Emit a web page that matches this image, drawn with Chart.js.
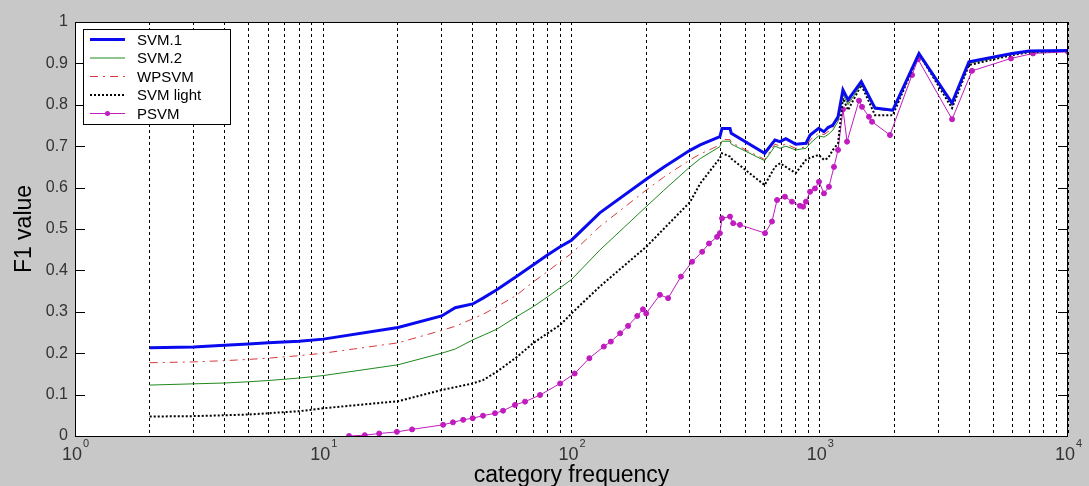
<!DOCTYPE html>
<html>
<head>
<meta charset="utf-8">
<script src="https://cdn.jsdelivr.net/npm/chart.js@4.4.1/dist/chart.umd.min.js"></script>
<style>
  html, body { margin: 0; padding: 0; background: #c8c8c8; }
  canvas { display: block; }
</style>
</head>
<body>
<canvas id="f1Chart" width="1089" height="486"></canvas>
<script>
// category frequency (shared by SVM.1 / SVM.2 / WPSVM / SVM light)
const freq = [2, 3, 4, 5, 6, 8, 10, 20, 30, 34, 40, 44, 50, 60, 70, 80, 90, 100,
  130, 200, 235, 300, 330, 396, 404, 435, 440, 600, 660, 692, 730, 800, 880, 915, 990,
  1040, 1080, 1130, 1185, 1240, 1300, 1470, 1670, 1970, 2510, 3410, 3990, 5950, 6970, 10000];

const svm1 = [0.213, 0.215, 0.219, 0.222, 0.225, 0.229, 0.234, 0.262, 0.290, 0.310, 0.319, 0.333, 0.353, 0.385, 0.413, 0.437, 0.457, 0.473,
  0.539, 0.620, 0.649, 0.690, 0.703, 0.723, 0.743, 0.743, 0.731, 0.683, 0.715, 0.711, 0.718, 0.705, 0.707, 0.727, 0.743,
  0.735, 0.745, 0.751, 0.771, 0.836, 0.812, 0.856, 0.792, 0.787, 0.924, 0.804, 0.904, 0.924, 0.930, 0.931];

const svm2 = [0.123, 0.126, 0.128, 0.131, 0.134, 0.140, 0.146, 0.172, 0.200, 0.210, 0.232, 0.243, 0.258, 0.288, 0.312, 0.336, 0.358, 0.378,
  0.449, 0.554, 0.593, 0.650, 0.670, 0.699, 0.712, 0.712, 0.705, 0.665, 0.700, 0.695, 0.700, 0.691, 0.695, 0.707, 0.725,
  0.722, 0.728, 0.739, 0.760, 0.825, 0.800, 0.850, 0.790, 0.785, 0.920, 0.800, 0.900, 0.922, 0.928, 0.930];

const wpsvm = [0.177, 0.179, 0.182, 0.185, 0.188, 0.194, 0.200, 0.225, 0.255, 0.265, 0.283, 0.294, 0.312, 0.340, 0.372, 0.397, 0.421, 0.441,
  0.506, 0.594, 0.625, 0.667, 0.681, 0.703, 0.716, 0.716, 0.709, 0.668, 0.705, 0.700, 0.705, 0.695, 0.698, 0.715, 0.732,
  0.728, 0.735, 0.745, 0.765, 0.830, 0.805, 0.853, 0.790, 0.785, 0.922, 0.800, 0.900, 0.922, 0.928, 0.930];

const svmLight = [0.047, 0.048, 0.050, 0.052, 0.055, 0.060, 0.067, 0.084, 0.111, 0.118, 0.127, 0.135, 0.155, 0.190, 0.224, 0.248, 0.268, 0.296,
  0.361, 0.457, 0.500, 0.565, 0.610, 0.671, 0.683, 0.675, 0.670, 0.606, 0.650, 0.659, 0.650, 0.635, 0.667, 0.672, 0.679,
  0.667, 0.671, 0.691, 0.707, 0.816, 0.787, 0.848, 0.775, 0.775, 0.923, 0.792, 0.896, 0.920, 0.927, 0.931];

// PSVM has its own points (markers)
const psvmFreq = [12.7, 14.7, 16.8, 19.8, 22.8, 30.4, 33.3, 36.6, 40, 44, 49.2, 53, 59.2, 65, 74.7,
  90, 103, 118, 135, 144, 157, 169, 184, 194, 200, 227, 245, 276, 306, 336, 358, 386, 396, 404, 435,
  448, 477, 602, 642, 673, 724, 773, 832, 857, 880, 914, 957, 993, 1040, 1089, 1141, 1185, 1241, 1288, 1439,
  1480, 1579, 1624, 1918, 2353, 2488, 3413, 4105, 5893, 7227, 10000];
const psvm = [0, 0.002, 0.006, 0.010, 0.016, 0.027, 0.033, 0.039, 0.043, 0.049, 0.055, 0.061, 0.075, 0.083, 0.099,
  0.127, 0.151, 0.188, 0.216, 0.228, 0.248, 0.266, 0.290, 0.306, 0.296, 0.341, 0.333, 0.385, 0.421, 0.445, 0.465, 0.481, 0.490, 0.526, 0.530,
  0.514, 0.510, 0.490, 0.518, 0.570, 0.578, 0.566, 0.556, 0.554, 0.566, 0.590, 0.598, 0.614, 0.586, 0.602, 0.650, 0.691, 0.789, 0.711, 0.810,
  0.795, 0.771, 0.759, 0.727, 0.872, 0.910, 0.765, 0.882, 0.912, 0.924, 0.928];

const seriesNames = ["SVM.1", "SVM.2", "WPSVM", "SVM light", "PSVM"];
// x tick labels are 10^k, k from this list
const decades = [0, 1, 2, 3, 4];

const FONT = "'Liberation Sans', Arial, sans-serif";

function toPoints(xs, ys) {
  return xs.map((x, i) => ({ x: x, y: ys[i] }));
}

// gray background + white plot area
const backgroundPlugin = {
  id: "background",
  beforeDraw(chart) {
    const { ctx, chartArea: a } = chart;
    ctx.save();
    ctx.fillStyle = "#c8c8c8";
    ctx.fillRect(0, 0, chart.width, chart.height);
    ctx.fillStyle = "#ffffff";
    ctx.fillRect(a.left, a.top, a.right - a.left, a.bottom - a.top);
    ctx.restore();
  },
};

// box around the axes, inward y ticks, and 10^k labels with a raised exponent
const framePlugin = {
  id: "frame",
  afterDraw(chart) {
    const { ctx, chartArea: a } = chart;
    const yScale = chart.scales.y;
    const xScale = chart.scales.x;
    ctx.save();
    ctx.strokeStyle = "#000";
    ctx.lineWidth = 1;
    ctx.setLineDash([]);
    ctx.strokeRect(a.left + 0.5, a.top + 0.5, a.right - a.left - 1, a.bottom - a.top);
    ctx.beginPath();
    yScale.ticks.forEach((t) => {
      const py = Math.round(yScale.getPixelForValue(t.value)) + 0.5;
      ctx.moveTo(a.left, py);
      ctx.lineTo(a.left + 10, py);
      ctx.moveTo(a.right, py);
      ctx.lineTo(a.right - 10, py);
    });
    ctx.stroke();

    //指数ラベル
    ctx.fillStyle = "#333";
    ctx.textBaseline = "alphabetic";
    ctx.textAlign = "left";
    decades.forEach((d) => {
      const px = xScale.getPixelForValue(Math.pow(10, d));
      ctx.font = "18px " + FONT;
      const baseW = ctx.measureText("10").width;
      ctx.font = "11px " + FONT;
      const expW = ctx.measureText(String(d)).width;
      const start = px - (baseW + expW) / 2;
      ctx.font = "18px " + FONT;
      ctx.fillText("10", start, a.bottom + 24);
      ctx.font = "11px " + FONT;
      ctx.fillText(String(d), start + baseW + 1, a.bottom + 11);
    });
    ctx.restore();
  },
};

// legend box in the top-left corner
const boxLegendPlugin = {
  id: "boxLegend",
  afterDraw(chart) {
    const { ctx, chartArea: a } = chart;
    const x0 = a.left + 8;
    const y0 = a.top + 7;
    const w = 147;
    const h = 95;
    ctx.save();
    ctx.fillStyle = "#fff";
    ctx.fillRect(x0, y0, w, h);
    ctx.strokeStyle = "#000";
    ctx.lineWidth = 1;
    ctx.setLineDash([]);
    ctx.strokeRect(x0 + 0.5, y0 + 0.5, w, h);
    ctx.font = "15px " + FONT;
    ctx.textBaseline = "middle";
    chart.data.datasets.forEach((ds, i) => {
      const ry = y0 + 10.5 + i * 18.5;
      ctx.strokeStyle = ds.borderColor;
      ctx.lineWidth = ds.borderWidth;
      ctx.setLineDash(ds.borderDash || []);
      ctx.beginPath();
      ctx.moveTo(x0 + 7, ry);
      ctx.lineTo(x0 + 42, ry);
      ctx.stroke();
      if (ds.pointRadius > 0) {
        ctx.fillStyle = ds.borderColor;
        ctx.beginPath();
        ctx.arc(x0 + 24.5, ry, ds.pointRadius, 0, Math.PI * 2);
        ctx.fill();
      }
      ctx.fillStyle = "#000";
      ctx.fillText(ds.label, x0 + 54, ry + 1);
    });
    ctx.restore();
  },
};

const datasets = [
  { label: seriesNames[0], data: toPoints(freq, svm1), borderColor: "#0a0aee", borderWidth: 3, pointRadius: 0 },
  { label: seriesNames[1], data: toPoints(freq, svm2), borderColor: "#1f8a1f", borderWidth: 1, pointRadius: 0 },
  { label: seriesNames[2], data: toPoints(freq, wpsvm), borderColor: "#d83a3a", borderWidth: 1, borderDash: [8, 5, 2, 5], pointRadius: 0 },
  { label: seriesNames[3], data: toPoints(freq, svmLight), borderColor: "#000000", borderWidth: 2, borderDash: [2, 2], pointRadius: 0 },
  { label: seriesNames[4], data: toPoints(psvmFreq, psvm), borderColor: "#c01cc0", backgroundColor: "#c01cc0", borderWidth: 1, pointRadius: 2.5 },
];

new Chart(document.getElementById("f1Chart"), {
  type: "line",
  data: { datasets: datasets },
  options: {
    responsive: false,
    animation: false,
    devicePixelRatio: 1,
    layout: { padding: { top: 22, right: 21, bottom: 0, left: 0 } },
    elements: { line: { tension: 0, fill: false }, point: { pointStyle: "circle", borderWidth: 0 } },
    plugins: { legend: { display: false }, tooltip: { enabled: false } },
    scales: {
      x: {
        type: "logarithmic",
        min: 1,
        max: 10000,
        afterBuildTicks(scale) {
          // grid at 1..9 x 10^k
          const ticks = [];
          decades.forEach((d) => {
            const maxM = d === decades[decades.length - 1] ? 1 : 9;
            for (let m = 1; m <= maxM; m++) ticks.push({ value: m * Math.pow(10, d) });
          });
          scale.ticks = ticks;
        },
        afterFit(scale) { scale.height = 50; },
        grid: { color: "#000", lineWidth: 1, drawTicks: false },
        border: { display: false, dash: [3, 3] },
        ticks: { display: false, autoSkip: false },
        title: {
          display: true,
          text: "category frequency",
          color: "#000",
          font: { family: FONT, size: 23 },
          padding: { top: 0, bottom: -3 },
        },
      },
      y: {
        min: 0,
        max: 1,
        afterFit(scale) { scale.width = 75; },
        grid: { display: false, drawTicks: false },
        border: { display: false },
        ticks: {
          stepSize: 0.1,
          padding: 7,
          color: "#333",
          font: { family: FONT, size: 16 },
          callback(value) { return String(Math.round(value * 10) / 10); },
        },
        title: {
          display: true,
          text: "F1 value",
          color: "#000",
          font: { family: FONT, size: 23 },
          padding: { top: 11, bottom: 0 },
        },
      },
    },
  },
  plugins: [backgroundPlugin, framePlugin, boxLegendPlugin],
});
</script>
</body>
</html>
